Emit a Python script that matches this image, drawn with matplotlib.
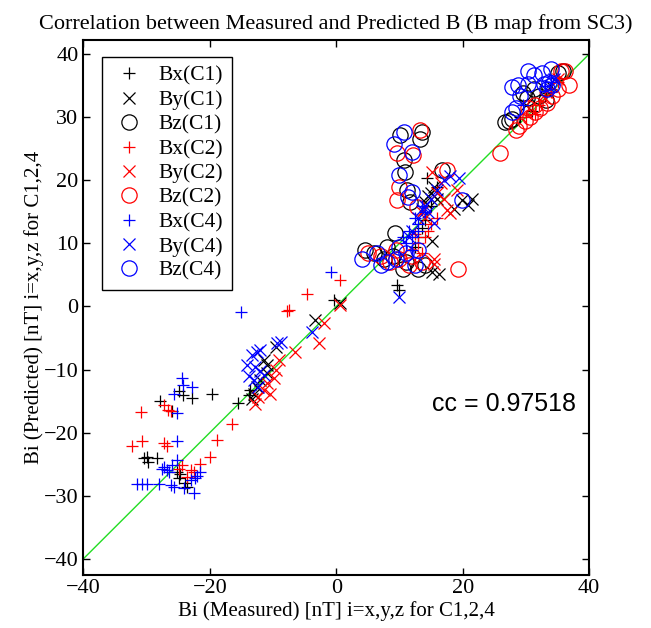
import numpy as np
import matplotlib
matplotlib.use("Agg")
import matplotlib.pyplot as plt

# === Measured (x) vs predicted (y) field components ===
bx_c1_meas = [-27.8, -25.9, -24.8, -24.2, -22.8, -19.6, -15.6, -30.4, -30.0, -29.8, -28.3,
              -24.9, -23.9, -23.6, -24.7, -25.2, -13.8, -13.6, -0.4,
              9.6, 9.9, 14.0, 14.3, 13.0, 12.5, 15.0, 16.0, 13.5,
              31.0, 33.0, 34.0, 29.0]
bx_c1_pred = [-15.0, -16.6, -13.4, -14.0, -14.5, -13.9, -15.3, -24.0, -23.8, -24.6, -24.0,
              -27.2, -28.0, -28.6, -26.5, -26.2, -14.0, -13.2, 1.0,
              3.4, 2.6, 13.7, 20.3, 11.0, 9.5, 16.0, 19.0, 12.5,
              31.0, 33.5, 34.5, 30.0]

by_c1_meas = [-11.5, -9.6, -3.3, -10.9, -12.0, -13.0, -13.3, 0.6, -11.0, -12.5,
              15.1, 16.2, 15.1, 19.9, 20.9, 21.5, 18.6, 15.0, 14.5, 15.5, 16.0, 14.0,
              30.0, 34.0]
by_c1_pred = [-8.5, -6.4, -2.2, -9.3, -11.7, -13.8, -14.6, 0.5, -10.5, -12.8,
              5.5, 5.2, 10.3, 16.9, 16.1, 17.1, 15.5, 18.0, 17.5, 19.0, 17.0, 16.5,
              32.0, 35.0]

bz_c1_meas = [26.7, 27.3, 27.8, 35.0, 35.9, 30.1, 32.0, 33.1, 29.5, 31.2,
              10.1, 13.6, 13.3, 10.7, 10.9, 11.2, 16.7, 11.7,
              4.5, 6.0, 7.5, 9.0, 11.0, 13.0, 14.0, 8.0, 10.5, 9.3]
bz_c1_pred = [29.2, 29.4, 29.7, 37.0, 37.3, 33.1, 33.3, 32.8, 33.9, 34.5,
              27.2, 27.7, 26.6, 23.2, 21.3, 18.4, 21.6, 16.6,
              9.0, 8.5, 7.5, 8.0, 7.0, 6.0, 6.5, 9.5, 6.0, 11.6]

bx_c2_meas = [-4.6, -7.8, -16.5, -18.9, -19.9, -21.5, -22.5, -23.6, -30.9, -32.3, -30.7,
              -27.3, -26.7, -27.3, -26.6, -26.2, -24.4, -24.9, -23.0, 0.6, -7.5,
              12.0, 13.0, 14.0, 15.0, 13.5, 16.0, 12.5, 14.5,
              30.0, 32.0, 34.0, 35.0, 31.5]
bx_c2_pred = [2.0, -0.7, -18.6, -21.2, -23.9, -25.0, -26.2, -27.0, -16.8, -22.1, -21.3,
              -21.6, -22.1, -15.6, -16.4, -16.5, -25.1, -25.7, -25.9, 4.2, -0.6,
              9.0, 10.0, 11.0, 13.0, 8.5, 14.0, 11.5, 12.0,
              30.0, 32.0, 34.0, 35.5, 30.5]

by_c2_meas = [-2.0, -2.8, -6.5, -9.1, -9.6, -9.9, -10.9, -11.5, -12.3, -12.8, -10.4, 0.6,
              15.4, 15.4, 18.0, 17.5, 19.1, 15.1, 16.0, 17.0, 14.0, 16.5, 13.5,
              33.0, 35.0]
by_c2_pred = [-2.7, -5.8, -7.2, -8.5, -10.1, -11.4, -12.2, -13.2, -14.3, -15.4, -13.8, 0.2,
              7.6, 6.8, 14.8, 15.3, 18.4, 21.3, 18.0, 17.0, 14.0, 19.5, 15.0,
              33.0, 36.0]

bz_c2_meas = [25.9, 28.4, 28.9, 29.8, 30.6, 31.4, 32.3, 33.4, 34.2, 35.0, 36.2, 36.8,
              35.6, 31.4, 30.3,
              13.3, 9.6, 12.2, 9.9, 9.6, 17.5, 12.8, 19.3,
              5.0, 7.0, 8.5, 10.0, 12.0, 13.5, 9.5, 11.5]
bz_c2_pred = [24.4, 28.0, 28.6, 29.4, 30.0, 30.8, 31.4, 32.3, 33.3, 34.4, 37.3, 35.1,
              37.3, 31.9, 31.4,
              28.0, 24.3, 24.0, 19.0, 16.9, 21.6, 15.8, 6.0,
              8.5, 8.0, 7.0, 7.5, 8.0, 7.0, 9.0, 6.5]

bx_c4_meas = [-15.1, -0.9, -24.4, -24.2, -22.8, -25.7, -25.2, -25.2, -25.2, -25.9, -26.7,
              -27.3, -30.7, -31.5, -29.9, -28.1, -26.2, -25.7, -24.1, -22.5, -22.3,
              -21.5, -26.5, -27.5, -23.0, -22.1,
              11.0, 12.0, 13.0, 12.5, 13.5, 14.0, 11.5, 12.0, 10.5, 13.0,
              33.0, 34.0, 29.5]
bx_c4_pred = [-0.8, 5.5, -11.4, -12.5, -12.7, -13.9, -16.9, -21.4, -24.3, -25.1, -25.9,
              -25.4, -28.1, -28.1, -28.1, -28.1, -28.3, -28.6, -28.8, -29.6, -27.2,
              -26.2, -26.2, -25.7, -27.5, -26.9,
              10.0, 11.0, 13.0, 14.0, 16.0, 15.0, 12.0, 9.0, 11.0, 12.0,
              35.0, 35.5, 32.0]

by_c4_meas = [-12.5, -13.3, -12.0, -14.1, -12.8, -12.0, -13.8, -13.0, -12.3, -11.5,
              -9.4, -8.8, -3.8,
              9.9, 15.4, 17.0, 18.0, 19.4, 13.0, 14.0, 15.0, 16.0, 12.0, 13.5, 11.5, 14.5,
              33.5, 34.5]
by_c4_pred = [-7.2, -7.7, -6.9, -9.3, -9.6, -10.3, -11.1, -11.7, -12.7, -10.9,
              -5.8, -5.6, -4.0,
              1.5, 13.2, 20.0, 20.6, 20.3, 14.0, 16.0, 17.0, 18.5, 12.0, 15.5, 11.0, 15.0,
              35.0, 36.0]

bz_c4_meas = [27.8, 28.7, 30.3, 31.2, 32.5, 33.9, 28.4, 27.8, 29.0, 32.8, 33.6, 34.2,
              33.4, 30.3,
              10.7, 9.1, 12.0, 9.9, 12.0, 11.4, 19.9,
              4.0, 6.5, 8.0, 9.5, 11.0, 12.5, 7.0, 10.0, 13.0]
bz_c4_pred = [34.8, 35.1, 37.3, 36.7, 37.0, 37.6, 31.4, 30.8, 33.3, 35.3, 35.6, 35.1,
              34.5, 35.3,
              27.7, 25.8, 24.5, 20.8, 18.2, 17.4, 16.9,
              7.5, 8.5, 7.0, 7.5, 8.5, 6.5, 6.5, 9.5, 9.0]

labels = ['Bx(C1)', 'By(C1)', 'Bz(C1)', 'Bx(C2)', 'By(C2)', 'Bz(C2)',
          'Bx(C4)', 'By(C4)', 'Bz(C4)']
cc_value = 0.97518

plt.rcParams['font.family'] = ['Liberation Serif', 'DejaVu Serif']

fig = plt.figure(figsize=(6.51, 6.28), dpi=100)
ax = fig.add_axes([0.128, 0.085, 0.777, 0.851])

series = [
    (bx_c1_meas, bx_c1_pred, 'k', '+'),
    (by_c1_meas, by_c1_pred, 'k', 'x'),
    (bz_c1_meas, bz_c1_pred, 'k', 'o'),
    (bx_c2_meas, bx_c2_pred, 'r', '+'),
    (by_c2_meas, by_c2_pred, 'r', 'x'),
    (bz_c2_meas, bz_c2_pred, 'r', 'o'),
    (bx_c4_meas, bx_c4_pred, 'b', '+'),
    (by_c4_meas, by_c4_pred, 'b', 'x'),
    (bz_c4_meas, bz_c4_pred, 'b', 'o'),
]
for (xm, yp, col, mk), lab in zip(series, labels):
    ms = 11 if mk == 'o' else 9
    ax.plot(xm, yp, linestyle='none', marker=mk, markersize=ms,
            markerfacecolor='none', markeredgecolor=col, markeredgewidth=0.9,
            label=lab)

# one-to-one reference line
ax.plot([-40, 40], [-40, 40], color='#22dd22', linewidth=1.0, zorder=0)

ax.set_xlim(-40, 40)
ax.set_ylim(-42.5, 42.2)
ax.set_xticks([-40, -20, 0, 20, 40])
ax.set_yticks(np.arange(-40, 41, 10))
ax.tick_params(direction='in', top=True, right=True, labelsize=16, length=5, width=1)
for sp in ax.spines.values():
    sp.set_linewidth(1.5)

ax.set_xlabel('Bi (Measured) [nT] i=x,y,z for C1,2,4', fontsize=15, labelpad=2)
ax.set_ylabel('Bi (Predicted) [nT] i=x,y,z for C1,2,4', fontsize=15, labelpad=0)
ax.set_title('Correlation between Measured and Predicted B (B map from SC3)',
             fontsize=16, pad=8)

ax.text(26.5, -15.5, f'cc = {cc_value}', fontsize=18, ha='center', va='center',
        family=['Liberation Sans', 'DejaVu Sans'])

leg = ax.legend(loc='upper left', bbox_to_anchor=(0.0375, 0.968), fontsize=15.5,
                frameon=True, fancybox=False, edgecolor='k', framealpha=1,
                borderpad=0.4, labelspacing=0.2, handletextpad=0.49,
                handlelength=1.71, borderaxespad=0)
leg.get_frame().set_linewidth(1.0)

fig.savefig('out.png', dpi=100)
